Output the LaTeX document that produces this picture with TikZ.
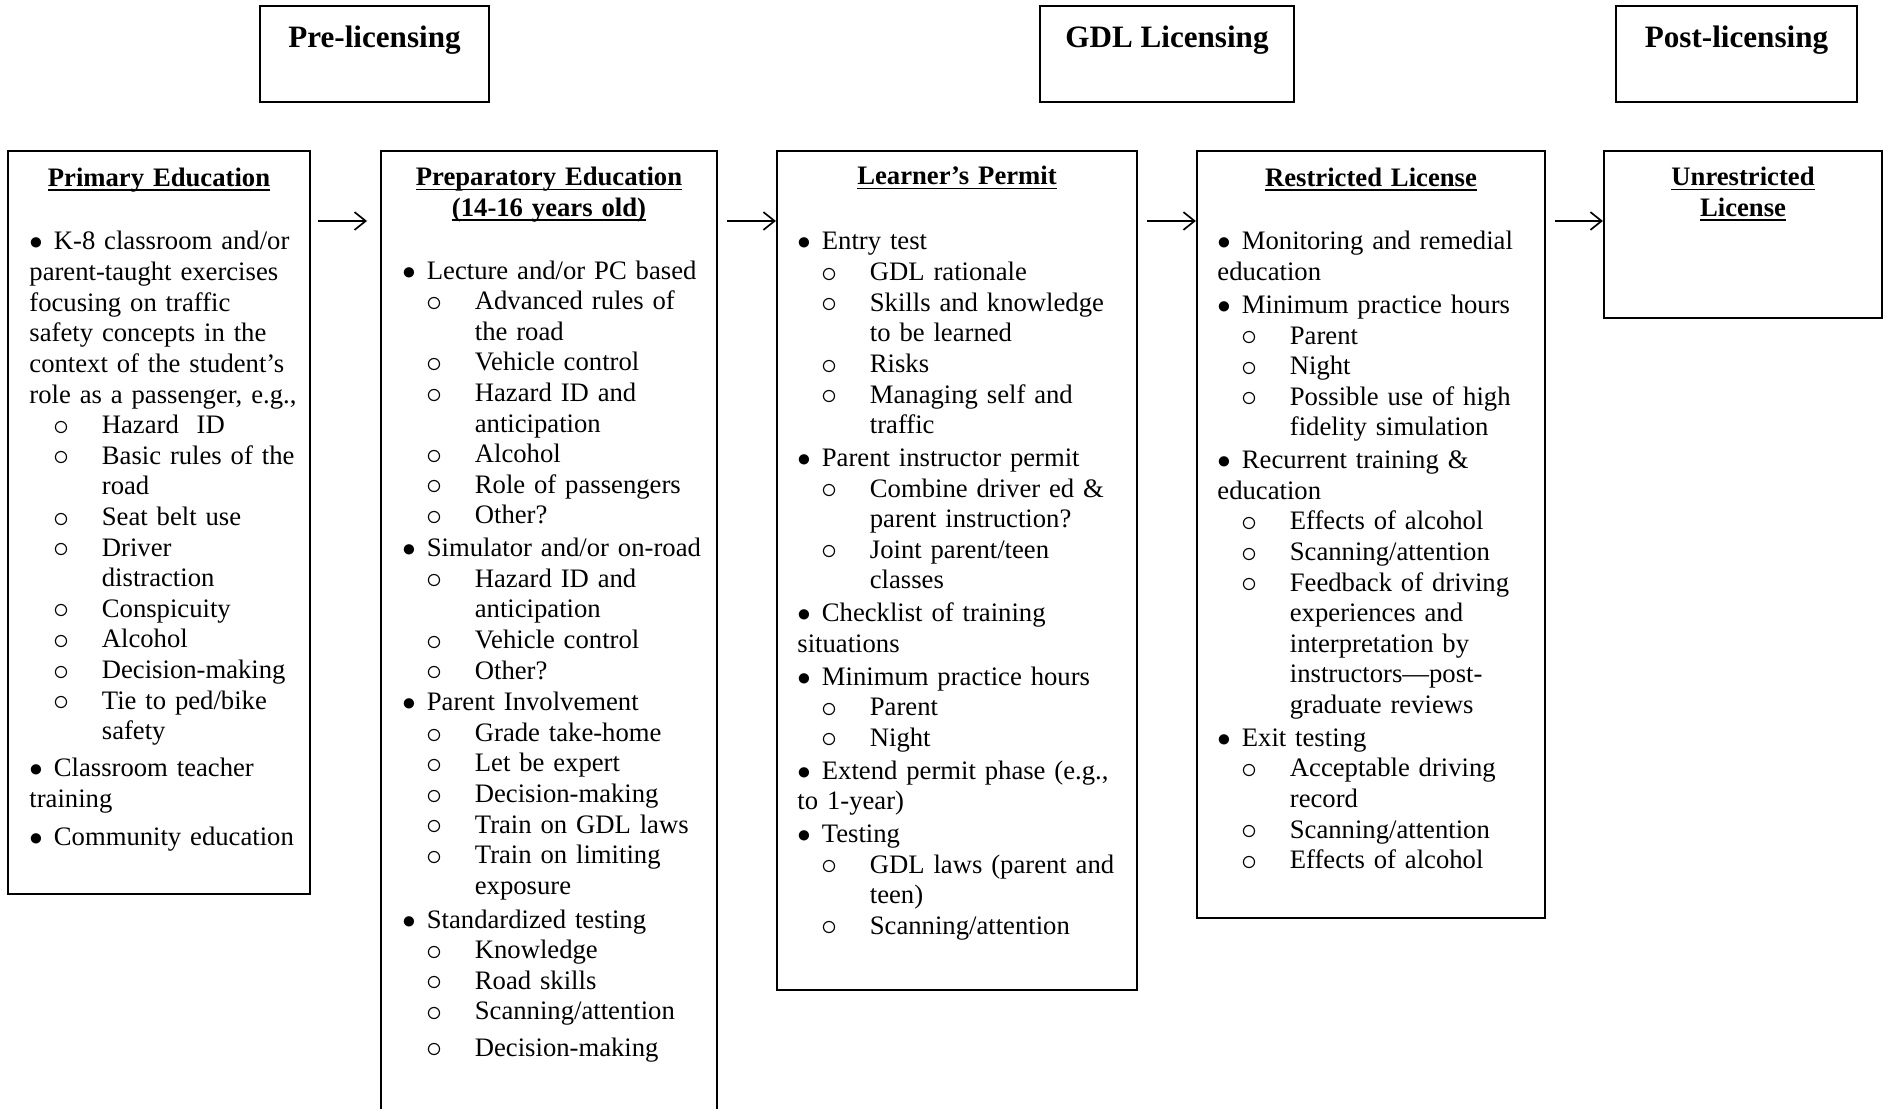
\documentclass[tikz,border=0pt]{standalone}
\usepackage{fontspec}
\setmainfont{Liberation Serif}
\usetikzlibrary{arrows.meta}

\newsavebox{\hdbox}
\newcommand{\hdline}[1]{\leavevmode\sbox{\hdbox}{#1}\rlap{\rule[-2pt]{\wd\hdbox}{0.75pt}}\usebox{\hdbox}}
\newcommand{\bulfirst}{\noindent\makebox[11pt][l]{$\bullet$}\ignorespaces}
\newcommand{\bulitem}[1][0pt]{\par\ifdim#1>0pt\vspace{#1}\fi\bulfirst}
\newcommand{\hangfirst}{\noindent\hangindent=11pt\hangafter=1\makebox[11pt][l]{$\bullet$}\ignorespaces}
\newcommand{\hangitem}[1][0pt]{\par\ifdim#1>0pt\vspace{#1}\fi\hangfirst}
\newcommand{\ringitem}[1][0pt]{\par\ifdim#1>0pt\vspace{#1}\fi\noindent\hangindent=32.6pt\hangafter=1\makebox[32.6pt][l]{\hspace{10.6pt}\raisebox{-0.75pt}{\fontsize{15}{15}\selectfont$\circ$}}\ignorespaces}

\tikzset{
	phase/.style={draw, line width=1.3pt, anchor=north west, inner sep=0pt, outer sep=0pt, minimum width=#1, minimum height=43.2pt},
	phasetxt/.style={anchor=base, inner sep=0pt, font=\fontsize{14}{16}\selectfont\bfseries},
	stage/.style 2 args={draw, line width=0.9pt, anchor=north west, inner sep=0pt, outer sep=0pt, minimum width=#1, minimum height=#2},
	stagehd/.style={anchor=base, inner sep=0pt, text width=#1, font=\fontsize{12}{13.77}\selectfont\bfseries},
	stagelist/.style={anchor=base west, inner sep=0pt, text width=#1, font=\fontsize{12}{13.77}\selectfont},
	flow/.style={line width=0.75pt, -{Straight Barb[length=5pt, width=8pt]}}
}

\begin{document}
\begin{tikzpicture}[x=0.45pt, y=-0.45pt]

\useasboundingbox (0,0) rectangle (1887,1109);
\clip (0,0) rectangle (1887,1109);

% PHASES
\node [phase=103.05pt] (pre) at (260,6) {};
\node [phase=114.3pt] (gdl) at (1040,6) {};
\node [phase=108.45pt] (post) at (1616,6) {};
\node [phasetxt] (preT) at ([shift={(0,42)}]pre.north) {Pre-licensing};
\node [phasetxt] (gdlT) at ([shift={(0,42)}]gdl.north) {GDL Licensing};
\node [phasetxt] (postT) at ([shift={(0,42)}]post.north) {Post-licensing};

% STAGES
\node [stage={135.9pt}{334.35pt}] (prim) at (8,151) {};
\node [stage={151.2pt}{445.05pt}] (prep) at (381,151) {};
\node [stage={162pt}{377.55pt}] (lrn) at (777,151) {};
\node [stage={156.6pt}{345.15pt}] (rst) at (1197,151) {};
\node [stage={125.1pt}{75.15pt}] (unr) at (1604,151) {};

% HEADINGS
\node [stagehd=130pt] (primT) at ([shift={(0,35.5)}]prim.north) {\centering\hdline{Primary Education}\par};
\node [stagehd=145pt] (prepT) at ([shift={(0,35)}]prep.north) {\centering\hdline{Preparatory Education}\\\hdline{(14-16 years old)}\par};
\node [stagehd=155pt] (lrnT) at ([shift={(0,34)}]lrn.north) {\centering\hdline{Learner’s Permit}\par};
\node [stagehd=150pt] (rstT) at ([shift={(0,35.5)}]rst.north) {\centering\hdline{Restricted License}\par};
\node [stagehd=120pt] (unrT) at ([shift={(0,35)}]unr.north) {\centering\hdline{Unrestricted}\\\hdline{License}\par};

% LISTS
\node [stagelist=126pt] (primL) at ([shift={(21,99)}]prim.north west) {%
	\raggedright\bulfirst K-8 classroom and/or\newline parent-taught exercises\newline focusing on traffic\newline safety concepts in the\newline context of the student’s\newline role as a passenger, e.g.,
	\ringitem Hazard\ \ ID
	\ringitem Basic rules of the\newline road
	\ringitem Seat belt use
	\ringitem Driver\newline distraction
	\ringitem Conspicuity
	\ringitem Alcohol
	\ringitem Decision-making
	\ringitem Tie to ped/bike\newline safety
	\bulitem[3pt] Classroom teacher\newline training
	\bulitem[3.5pt] Community education\par};

\node [stagelist=141pt] (prepL) at ([shift={(21,128)}]prep.north west) {%
	\raggedright\hangfirst Lecture and/or PC based
	\ringitem Advanced rules of\newline the road
	\ringitem Vehicle control
	\ringitem Hazard ID and\newline anticipation
	\ringitem Alcohol
	\ringitem Role of passengers
	\ringitem Other?
	\hangitem[1pt] Simulator and/or on-road
	\ringitem Hazard ID and\newline anticipation
	\ringitem Vehicle control
	\ringitem Other?
	\hangitem[0.5pt] Parent Involvement
	\ringitem Grade take-home
	\ringitem Let be expert
	\ringitem Decision-making
	\ringitem Train on GDL laws
	\ringitem Train on limiting\newline exposure
	\hangitem[1.4pt] Standardized testing
	\ringitem Knowledge
	\ringitem Road skills
	\ringitem Scanning/attention
	\ringitem[2.5pt] Decision-making\par};

\node [stagelist=153pt] (lrnL) at ([shift={(20,99)}]lrn.north west) {%
	\raggedright\bulfirst Entry test
	\ringitem GDL rationale
	\ringitem Skills and knowledge\newline to be learned
	\ringitem Risks
	\ringitem Managing self and\newline traffic
	\bulitem[1pt] Parent instructor permit
	\ringitem Combine driver ed \&\newline parent instruction?
	\ringitem Joint parent/teen\newline classes
	\bulitem[1pt] Checklist of training\newline situations
	\bulitem[1pt] Minimum practice hours
	\ringitem Parent
	\ringitem Night
	\bulitem[1pt] Extend permit phase (e.g.,\newline to 1-year)
	\bulitem[1pt] Testing
	\ringitem GDL laws (parent and\newline teen)
	\ringitem Scanning/attention\par};

\node [stagelist=147pt] (rstL) at ([shift={(20,99)}]rst.north west) {%
	\raggedright\bulfirst Monitoring and remedial\newline education
	\bulitem[1pt] Minimum practice hours
	\ringitem Parent
	\ringitem Night
	\ringitem Possible use of high\newline fidelity simulation
	\bulitem[1pt] Recurrent training \&\newline education
	\ringitem Effects of alcohol
	\ringitem Scanning/attention
	\ringitem Feedback of driving\newline experiences and\newline interpretation by\newline instructors—post-\newline graduate reviews
	\bulitem[1pt] Exit testing
	\ringitem Acceptable driving\newline record
	\ringitem Scanning/attention
	\ringitem Effects of alcohol\par};

% ARROWS
\draw [flow, shorten <=3.6pt, shorten >=6.3pt] ([yshift=-31.5pt]prim.north east) -- ([yshift=-31.5pt]prep.north west);
\draw [flow, shorten <=4.5pt, shorten >=0.5pt] ([yshift=-31.5pt]prep.north east) -- ([yshift=-31.5pt]lrn.north west);
\draw [flow, shorten <=4.5pt, shorten >=0.5pt] ([yshift=-31.5pt]lrn.north east) -- ([yshift=-31.5pt]rst.north west);
\draw [flow, shorten <=4.5pt, shorten >=0.5pt] ([yshift=-31.5pt]rst.north east) -- ([yshift=-31.5pt]unr.north west);

\end{tikzpicture}
\end{document}
